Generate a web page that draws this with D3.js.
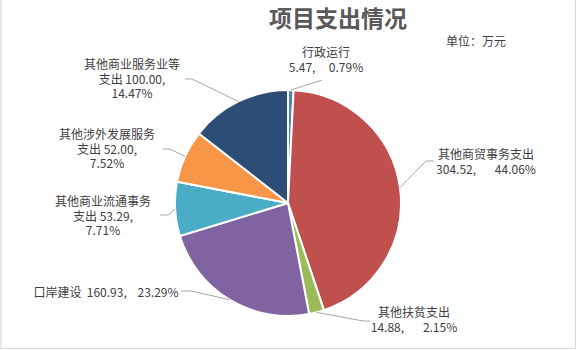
<!DOCTYPE html>
<html><head><meta charset="utf-8">
<script src="https://cdn.jsdelivr.net/npm/d3@7"></script>
<style>body{margin:0;background:#fff}svg{display:block}</style>
</head><body>
<svg id="c" width="578" height="350"></svg>
<script>
const categories = ["行政运行","其他商贸事务支出","其他扶贫支出","口岸建设","其他商业流通事务支出","其他涉外发展服务支出","其他商业服务业等支出"];
const values = [5.47, 304.52, 14.88, 160.93, 53.29, 52.00, 100.00];
const percents = ["0.79%","44.06%","2.15%","23.29%","7.71%","7.52%","14.47%"];
const colors = ["#4F81BD","#C0504D","#9BBB59","#8064A2","#4BACC6","#F79646","#2C4D75"];
const S = "\u00a0";
// label text lines
const labelLines = [
  ["行政运行", "5.47," + S.repeat(5) + "0.79%"],
  ["其他商贸事务支出", "304.52," + S.repeat(7) + "44.06%"],
  ["其他扶贫支出", "14.88," + S.repeat(7) + "2.15%"],
  ["口岸建设" + S + S + "160.93," + S.repeat(4) + "23.29%"],
  ["其他商业流通事务", "支出 53.29,", "7.71%"],
  ["其他涉外发展服务", "支出 52.00,", "7.52%"],
  ["其他商业服务业等", "支出 100.00,", "14.47%"]
];
// layout: label center x, first line y; leader elbow & end points
const labelPos = [
  {x:326,y:53,elbow:[322,80],end:[322,80]},
  {x:486,y:155,elbow:[426,161],end:[434,161]},
  {x:414,y:313,elbow:[363,321],end:[370,321]},
  {x:106,y:293,elbow:[191,291],end:[181,291]},
  {x:103,y:202,elbow:[168,215],end:[160,215]},
  {x:107,y:135,elbow:[170,149],end:[163,149]},
  {x:132,y:65,elbow:[192,79],end:[185,79]}
];

const svg = d3.select("#c");
// frame
svg.append("path").attr("d","M1,0 V348.5 H575.5 V0").attr("fill","none").attr("stroke","#d9d9d9").attr("stroke-width",1.2);

svg.append("text").attr("x",338).attr("y",27).attr("text-anchor","middle")
  .attr("font-family","'Noto Sans CJK SC'").attr("font-weight","bold").attr("font-size",23)
  .attr("fill","#595959").text("项目支出情况");
svg.append("text").attr("x",446).attr("y",46)
  .attr("font-family","'Noto Sans CJK SC'").attr("font-size",12)
  .attr("fill","#404040").text("单位：万元");

const cx=288, cy=203, r=113;
const pie = d3.pie().sort(null).value(d=>d)(values);
const arc = d3.arc().innerRadius(0).outerRadius(r);
const g = svg.append("g").attr("transform",`translate(${cx},${cy})`);
g.selectAll("path").data(pie).join("path")
  .attr("d",arc)
  .attr("fill",(d,i)=>colors[i]).attr("stroke","#fff").attr("stroke-width",2);

// leader lines
pie.forEach((d,i)=>{
  const p = labelPos[i];
  const a=(d.startAngle+d.endAngle)/2;
  const sx=cx+r*Math.sin(a), sy=cy-r*Math.cos(a);
  svg.append("polyline").attr("points",`${sx},${sy} ${p.elbow[0]},${p.elbow[1]} ${p.end[0]},${p.end[1]}`)
    .attr("fill","none").attr("stroke","#a6a6a6").attr("stroke-width",1);
});

// labels
labelLines.forEach((lines,i)=>{
  const p=labelPos[i];
  const t=svg.append("text").attr("text-anchor","middle")
    .attr("font-family","'Noto Sans CJK SC'").attr("font-size",12).attr("fill","#404040");
  lines.forEach((s,k)=>{
    t.append("tspan").attr("x",p.x).attr("y",p.y+4+k*14.5).text(s);
  });
});
</script>
</body></html>
